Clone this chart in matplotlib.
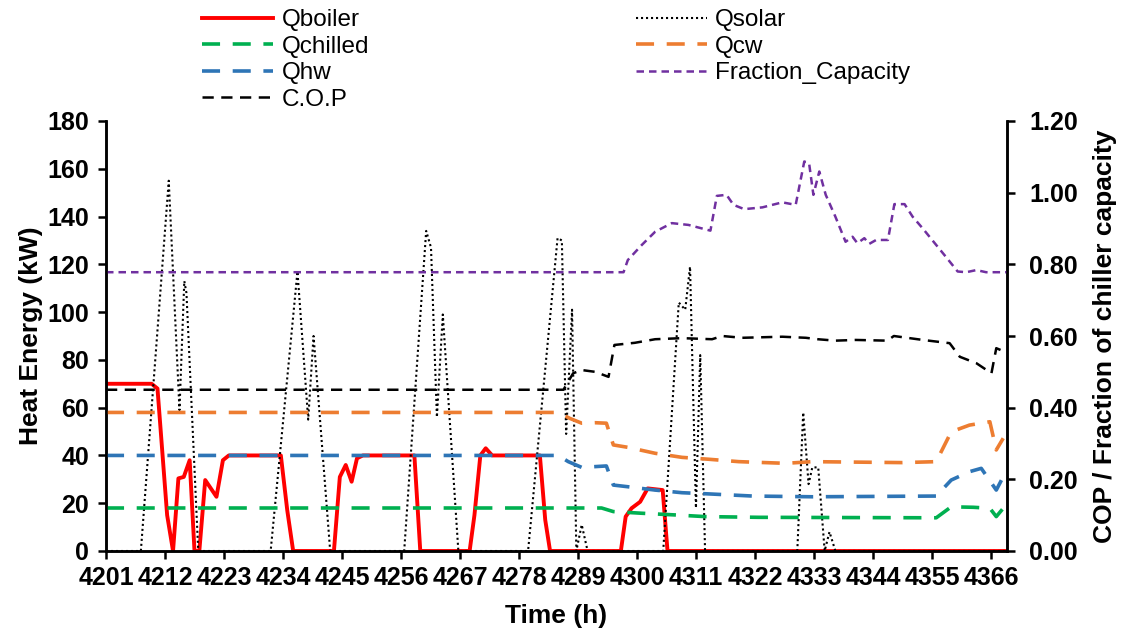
import matplotlib
matplotlib.use("Agg")
import matplotlib.pyplot as plt

plt.rcParams["font.family"] = ["Liberation Sans", "DejaVu Sans"]

# 锅炉 / 太阳能 / 冷冻水 / 冷却水 / 热水 (kW)
h_boiler = [4201, 4209.5, 4210.6, 4212.4, 4213.5, 4214.5, 4215.5, 4216.6, 4217.5, 4218.4,
            4219.5, 4221.6, 4222.8, 4223.9, 4233.6, 4234.8, 4235.9, 4243.5, 4244.6, 4245.7,
            4246.8, 4247.8, 4248.9, 4258.5, 4259.6, 4268.8, 4269.7, 4270.8, 4271.8, 4273.0,
            4281.9, 4282.9, 4283.8, 4297.0, 4297.9, 4299.0, 4300.6, 4302.0, 4304.8, 4305.7, 4369]
q_boiler = [70, 70, 68, 15, 0, 30.4, 31, 38, 0, 0,
            29.7, 22.7, 38, 40, 40, 17, 0, 0, 31, 36,
            29, 38.8, 40, 40, 0, 0, 15, 40, 43, 40,
            40, 13, 0, 0, 14.4, 17.9, 20.6, 26.2, 25.5, 0, 0]

h_solar = [4201, 4207.5, 4212.7, 4214.7, 4215.6, 4216.0, 4218.2, 4231.7, 4236.7, 4238.7,
           4239.7, 4242.8, 4256.6, 4260.7, 4261.6, 4262.7, 4263.8, 4266.7, 4279.7, 4285.2,
           4286.0, 4286.8, 4287.9, 4288.7, 4289.7, 4290.8, 4304.9, 4307.8, 4309.0, 4309.9,
           4311.0, 4311.8, 4312.7, 4329.9, 4331.0, 4332.0, 4332.7, 4333.8, 4335.0, 4335.9,
           4337.0, 4369]
q_solar = [0, 0, 155, 59, 113, 108, 0, 0, 117, 55,
           90, 0, 0, 134, 127, 56, 99, 0, 0, 131,
           130, 49, 101, 0, 11, 0, 0, 104, 101, 119,
           18, 82, 0, 0, 58, 28, 35, 35, 0, 8,
           0, 0]

h_chilled = [4201, 4293.4, 4295.6, 4300.9, 4307.1, 4312.7, 4322.7, 4355.8, 4358.6, 4362.7,
             4365.8, 4367.0, 4368.3]
q_chilled = [18, 18, 16.5, 15.8, 15.1, 14.4, 14.1, 13.9, 18.5, 18.3,
             17.9, 14.4, 17.9]

h_cw = [4201, 4285.3, 4287.5, 4289.7, 4292.2, 4294.3, 4295.6, 4298.3, 4303.4, 4308.4,
        4313.4, 4319.0, 4327.7, 4332.7, 4349.5, 4355.8, 4358.6, 4362.0, 4365.8, 4367.0, 4368.3]
q_cw = [58, 58, 55.5, 53.5, 53.7, 53.5, 44.4, 43.4, 40.9, 39.2,
        38.4, 37.4, 36.7, 37.4, 37.0, 37.4, 49.9, 52.7, 54.1, 42.3, 47.2]

h_hw = [4201, 4285.3, 4287.2, 4289.7, 4294.3, 4295.6, 4298.3, 4303.4, 4308.4, 4313.4,
        4321.6, 4332.7, 4355.8, 4358.6, 4362.0, 4364.2, 4367.0, 4368.3]
q_hw = [40, 40, 37.4, 35, 35.6, 27.6, 26.9, 25.5, 24.4, 23.9,
        23.0, 22.7, 23.0, 29.7, 33.2, 34.6, 25.5, 31.1]

# 右轴: COP 与冷机负荷率
h_cop = [4201, 4286.3, 4288.1, 4289.7, 4292.2, 4294.7, 4295.8, 4299.6, 4303.4, 4308.4,
         4314.0, 4315.9, 4319.6, 4327.1, 4331.5, 4333.7, 4337.0, 4340.8, 4346.7, 4347.9,
         4353.3, 4358.3, 4360.2, 4363.3, 4366.1, 4367.0, 4368.6]
cop = [0.45, 0.45, 0.496, 0.505, 0.50, 0.486, 0.575, 0.581, 0.591, 0.594,
       0.591, 0.60, 0.595, 0.598, 0.595, 0.591, 0.587, 0.589, 0.587, 0.60,
       0.589, 0.58, 0.542, 0.524, 0.496, 0.566, 0.556]

h_frac = [4201, 4297.5, 4298.3, 4300.9, 4303.4, 4306.5, 4309.6, 4313.7, 4314.9, 4316.7,
          4318.0, 4320.0, 4323.4, 4327.1, 4329.6, 4331.2, 4332.1, 4332.9, 4334.0, 4335.2,
          4337.0, 4338.9, 4340.2, 4341.1, 4342.4, 4343.3, 4344.6, 4346.8, 4348.0, 4349.9,
          4351.4, 4353.3, 4355.8, 4357.6, 4359.8, 4361.4, 4363.3, 4365.1, 4369]
frac_cap = [0.778, 0.778, 0.812, 0.854, 0.891, 0.915, 0.91, 0.894, 0.991, 0.994,
            0.966, 0.954, 0.959, 0.973, 0.966, 1.087, 1.082, 0.994, 1.059, 0.994,
            0.933, 0.863, 0.877, 0.859, 0.873, 0.857, 0.868, 0.868, 0.968, 0.968,
            0.933, 0.90, 0.854, 0.821, 0.78, 0.778, 0.784, 0.778, 0.778]

xticks = list(range(4201, 4367, 11))
rticks = [0, 0.2, 0.4, 0.6, 0.8, 1.0, 1.2]

fig = plt.figure(figsize=(11.27, 6.37), dpi=100)
ax = fig.add_axes([106 / 1127, 86 / 637, 901 / 1127, 430 / 637])
ax2 = ax.twinx()

l1, = ax.plot(h_boiler, q_boiler, color="#FF0000", lw=2.8, label="Qboiler",
              solid_joinstyle="round", zorder=2)
l2, = ax.plot(h_solar, q_solar, color="black", lw=1.5, ls=(0, (1, 1.4)), label="Qsolar", zorder=3)
l3, = ax.plot(h_chilled, q_chilled, color="#00B050", lw=2.6, dashes=(5, 3.5), label="Qchilled", zorder=4)
l4, = ax.plot(h_cw, q_cw, color="#ED7D31", lw=2.6, dashes=(5, 3.5), label="Qcw", zorder=4)
l5, = ax.plot(h_hw, q_hw, color="#2E75B6", lw=2.6, dashes=(5, 3.5), label="Qhw", zorder=4)
l6, = ax2.plot(h_frac, frac_cap, color="#7030A0", lw=1.8, dashes=(3, 2), label="Fraction_Capacity")
l7, = ax2.plot(h_cop, cop, color="black", lw=1.8, dashes=(4.5, 3), label="C.O.P")

ax.set_xlim(4201, 4369)
ax.set_ylim(0, 180)
ax2.set_ylim(0, 1.2)
ax.set_xticks(xticks)
ax.set_yticks(range(0, 181, 20))
ax2.set_yticks(rticks)
ax2.set_yticklabels([f"{v:.2f}" for v in rticks])

for a in (ax, ax2):
    a.spines["top"].set_visible(False)
    for s in ("left", "right", "bottom"):
        a.spines[s].set_linewidth(1.8)
    a.tick_params(width=1.8, length=6, labelsize=18)
    for lab in a.get_xticklabels() + a.get_yticklabels():
        lab.set_fontweight("bold")
ax.tick_params(axis="x", pad=5)
ax.tick_params(axis="y", pad=6)
ax2.tick_params(axis="y", pad=10)

ax.set_xlabel("Time (h)", fontsize=19, fontweight="bold", labelpad=10)
ax.set_ylabel("Heat Energy (kW)", fontsize=19, fontweight="bold", labelpad=3)
ax2.set_ylabel("COP / Fraction of chiller capacity", fontsize=19, fontweight="bold", labelpad=11)

handles = [l1, l3, l5, l7, l2, l4, l6]
fig.legend(handles, [h.get_label() for h in handles], loc="upper left",
           bbox_to_anchor=(200 / 1127, 1 - 7 / 637), ncol=2, frameon=False, fontsize=17.5,
           handlelength=2.9, handletextpad=0.35, columnspacing=11.0,
           labelspacing=0.18, borderpad=0.1, borderaxespad=0)

fig.savefig("out.png", dpi=100)
